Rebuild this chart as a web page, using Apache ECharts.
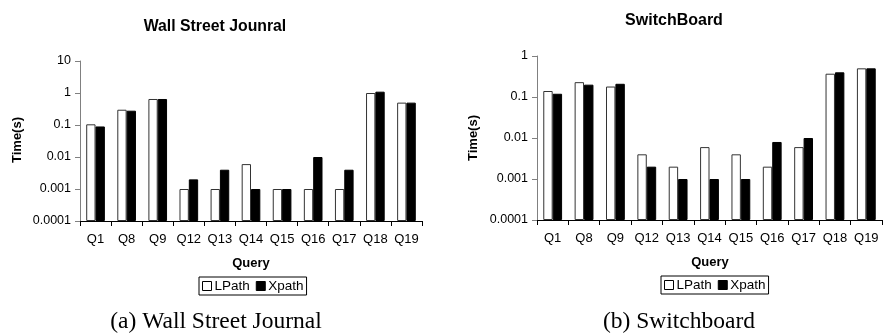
<!DOCTYPE html>
<html>
<head>
<meta charset="utf-8">
<script src="https://cdn.jsdelivr.net/npm/echarts@6/dist/echarts.min.js"></script>
<style>
html,body{margin:0;padding:0;background:#fff;}
#main{width:887px;height:333px;}
</style>
</head>
<body>
<div id="main"></div>
<script>
const categories = ['Q1','Q8','Q9','Q12','Q13','Q14','Q15','Q16','Q17','Q18','Q19'];
const wsjLPath = [0.105, 0.3, 0.65, 0.001, 0.001, 0.006, 0.001, 0.001, 0.001, 1.0, 0.5];
const wsjXpath = [0.09, 0.28, 0.65, 0.002, 0.004, 0.001, 0.001, 0.01, 0.004, 1.1, 0.5];
const swbLPath = [0.14, 0.23, 0.18, 0.004, 0.002, 0.006, 0.004, 0.002, 0.006, 0.37, 0.5];
const swbXpath = [0.12, 0.2, 0.21, 0.002, 0.001, 0.001, 0.001, 0.008, 0.01, 0.4, 0.5];
const wsjTicks = ['0.0001','0.001','0.01','0.1','1','10'];
const swbTicks = ['0.0001','0.001','0.01','0.1','1'];

const FONT = '"Liberation Sans", Arial, sans-serif';
const SERIF = '"Liberation Serif", "Times New Roman", serif';

function tickFormatter(labels, minVal) {
  return function (v) {
    const i = Math.round(Math.log10(v) - Math.log10(minVal));
    return labels[i] !== undefined ? labels[i] : '';
  };
}

function xAxisCfg(gridIndex) {
  return {
    type: 'category', gridIndex: gridIndex, data: categories,
    axisLine: {lineStyle: {color: '#000', width: 1}},
    axisTick: {show: true, length: 5, interval: 0, lineStyle: {color: '#000'}},
    axisLabel: {color: '#000', fontSize: 13, fontFamily: FONT, margin: 12, interval: 0, hideOverlap: false},
    splitLine: {show: false}
  };
}
function yAxisCfg(gridIndex, labels, max) {
  return {
    type: 'log', logBase: 10, gridIndex: gridIndex, min: 0.0001, max: max, startValue: 0.0001,
    axisLine: {show: true, lineStyle: {color: '#808080', width: 1}},
    axisTick: {show: true, length: 5, lineStyle: {color: '#808080'}},
    axisLabel: {color: '#000', fontSize: 12.5, fontFamily: FONT, margin: 9,
      formatter: tickFormatter(labels, 0.0001)},
    splitLine: {show: false}, minorTick: {show: false}
  };
}
function barSeries(name, data, idx, white) {
  return {
    name: name, type: 'bar', xAxisIndex: idx, yAxisIndex: idx, data: data,
    barWidth: '30%', barGap: '0%', animation: false,
    itemStyle: white ? {color: '#fff', borderColor: '#333', borderWidth: 1}
                     : {color: '#000', borderColor: '#000', borderWidth: 1}
  };
}
function legendCfg(left, top) {
  return {
    left: left, top: top, orient: 'horizontal',
    data: [
      {name: 'LPath', icon: 'rect', itemStyle: {color: '#fff', borderColor: '#000', borderWidth: 1}},
      {name: 'Xpath', icon: 'rect', itemStyle: {color: '#000', borderColor: '#000', borderWidth: 1}}
    ],
    itemWidth: 9, itemHeight: 9, itemGap: 6,
    borderColor: '#000', borderWidth: 1, padding: [2, 3, 2, 3],
    textStyle: {color: '#000', fontSize: 13.5, fontFamily: FONT, padding: [0, 0, 0, -2]},
    selectedMode: false
  };
}
function txt(x, y, text, size, bold, family, rot) {
  return {
    type: 'text', x: x, y: y, rotation: rot || 0,
    style: {text: text, fill: '#000', fontSize: size, fontWeight: bold ? 'bold' : 'normal',
      fontFamily: family || FONT, align: 'center', verticalAlign: 'middle'}
  };
}

const chart = echarts.init(document.getElementById('main'), null, {renderer: 'canvas'});
chart.setOption({
  animation: false,
  backgroundColor: '#fff',
  grid: [
    {left: 80, top: 61, width: 342, height: 160},
    {left: 537, top: 56, width: 345, height: 164}
  ],
  xAxis: [xAxisCfg(0), xAxisCfg(1)],
  yAxis: [yAxisCfg(0, wsjTicks, 10), yAxisCfg(1, swbTicks, 1)],
  legend: [legendCfg(199, 277), legendCfg(661, 276)],
  series: [
    barSeries('LPath', wsjLPath, 0, true),
    barSeries('Xpath', wsjXpath, 0, false),
    barSeries('LPath', swbLPath, 1, true),
    barSeries('Xpath', swbXpath, 1, false)
  ],
  graphic: [
    txt(215, 27, 'Wall Street Jounral', 15.8, true),
    txt(674, 21, 'SwitchBoard', 16, true),
    txt(17, 140, 'Time(s)', 13, true, FONT, Math.PI / 2),
    txt(473, 138, 'Time(s)', 13, true, FONT, Math.PI / 2),
    txt(251, 263, 'Query', 13, true),
    txt(710, 262, 'Query', 13, true),
    txt(216, 322, '(a) Wall Street Journal', 23.5, false, SERIF),
    txt(679, 322, '(b) Switchboard', 23.5, false, SERIF)
  ]
});
</script>
</body>
</html>
